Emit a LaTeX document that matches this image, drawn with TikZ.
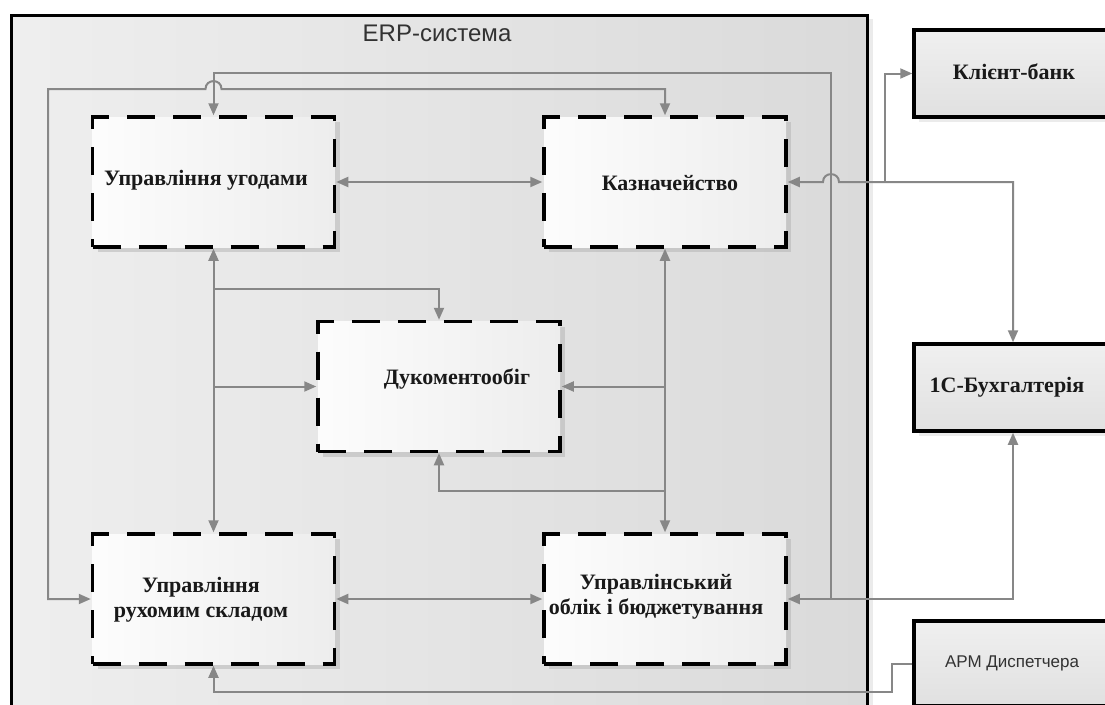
\documentclass[tikz,border=0pt]{standalone}
\usepackage{fontspec}
\setmainfont{Liberation Serif}
\newfontfamily\labelsans{Liberation Sans}
\usetikzlibrary{arrows.meta,shadows}
\definecolor{wire}{RGB}{135,135,135}
\definecolor{titlegray}{RGB}{50,50,50}
\begin{document}
\begin{tikzpicture}[x=1pt,y=-1pt,
  >={Triangle[length=12pt,width=10pt]},
  wire/.style={draw=wire, line width=2pt},
  erpbox/.style={draw=black, line width=3pt, left color=gray!13, right color=gray!29,
    drop shadow={shadow xshift=6pt, shadow yshift=-4pt, fill=gray!25, opacity=0.6}},
  module/.style={draw=black, line width=3.5pt, dash pattern=on 28pt off 18pt,
    minimum width=242pt, minimum height=130pt, inner sep=0pt,
    left color=gray!2, right color=gray!14,
    drop shadow={shadow xshift=5pt, shadow yshift=-5pt, fill=gray!60, opacity=0.5}},
  extbox/.style={draw=black, line width=3.5pt, minimum width=198pt, minimum height=87pt,
    inner sep=0pt, top color=gray!12, bottom color=gray!24,
    drop shadow={shadow xshift=5pt, shadow yshift=-5pt, fill=gray!30, opacity=0.5}},
  lbl/.style={font=\bfseries\fontsize{22}{25}\selectfont, align=center, text=black!90, inner sep=0pt},
  sanslbl/.style={font=\labelsans\fontsize{17}{19}\selectfont, text=titlegray, inner sep=0pt}
]
\useasboundingbox (0,0) rectangle (1105,704);
\fill[white] (0,0) rectangle (1105,704);
\clip (0,0) rectangle (1105,704);

% ERP system frame
\node[erpbox, minimum width=856pt, minimum height=715pt, inner sep=0pt] (erp) at (439,372.5) {};
\node[font=\labelsans\fontsize{24}{26}\selectfont, text=titlegray, inner sep=0pt] (erptitle) at (437,33) {ERP-система};

% internal modules
\node[module] (ugod) at (213.5,182) {};
\node[module] (kazna) at (665,182) {};
\node[module] (dok) at (439,386.5) {};
\node[module] (ruh) at (213.5,599) {};
\node[module] (uprav) at (665,599) {};

% external systems
\node[extbox] (klient) at (1013,73.5) {};
\node[extbox] (buh) at (1013,387.5) {};
\node[extbox, minimum height=85pt] (arm) at (1013,663.5) {};

% labels
\node[lbl] (tUgod) at (206,180) {Управління угодами};
\node[lbl] (tKazna) at (670,183) {Казначейство};
\node[lbl] (tDok) at (457,379) {Дукоментообіг};
\node[lbl] (tRuh) at (201,599.5) {Управління\\рухомим складом};
\node[lbl] (tUprav) at (656,597) {Управлінський\\облік і бюджетування};
\node[lbl] (tKlient) at (1014,72) {Клієнт-банк};
\node[lbl] (tBuh) at (1007,387) {1С-Бухгалтерія};
\node[sanslbl] (tArm) at (1012,663) {АРМ Диспетчера};

% junction points
\coordinate (jA) at (213.5,289);
\coordinate (jB) at (213.5,386.5);
\coordinate (jC) at (665,386.5);
\coordinate (jD) at (665,491);
\coordinate (jE) at (831,599);
\coordinate (jF) at (885,182);

% connections inside the ERP system
\draw[wire,<->] (ugod.east) -- (kazna.west);
\draw[wire,<->] (ruh.east) -- (uprav.west);
\draw[wire,<->] (ugod.south) -- (ruh.north);
\draw[wire,->] (jA) -| (dok.north);
\draw[wire,->] (jB) -- (dok.west);
\draw[wire,<->] (kazna.south) -- (uprav.north);
\draw[wire,->] (jC) -- (dok.east);
\draw[wire,->] (jD) -| (dok.south);

% outer loops
\draw[wire,->] (jE) -- (831,73) -- (213.5,73) -- (ugod.north);
\draw[wire,<->] (ruh.west) -- (48,599) -- (48,89) -- (205.5,89)
  .. controls (205.5,78.5) and (221.5,78.5) .. (221.5,89) -- (665,89) -- (kazna.north);

% links to external systems
\draw[wire,<->] (kazna.east) -- (823,182)
  .. controls (823,171.5) and (839,171.5) .. (839,182) -- (1013,182) -- (buh.north);
\draw[wire,->] (jF) |- (klient.west);
\draw[wire,<->] (buh.south) -- (1013,599) -- (uprav.east);
\draw[wire,->] (arm.west) -- (892,663.5) -- (892,692) -- (213.5,692) -- (ruh.south);
\end{tikzpicture}
\end{document}
